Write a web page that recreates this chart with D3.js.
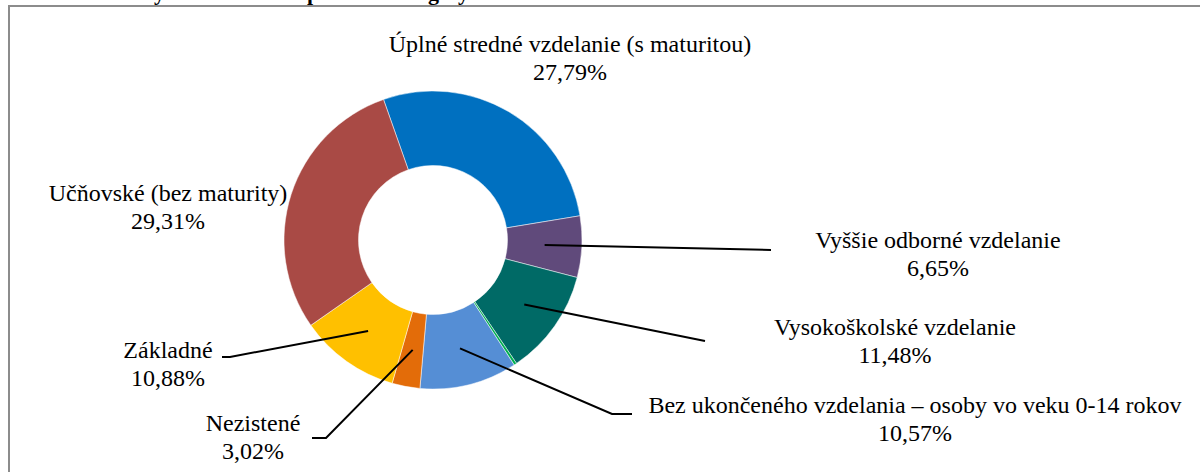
<!DOCTYPE html>
<html>
<head>
<meta charset="utf-8">
<script src="https://cdn.jsdelivr.net/npm/d3@7"></script>
<style>
  body { margin: 0; background: #fff; }
  svg { display: block; }
  text { font-family: 'Liberation Serif', 'Times New Roman', serif; }
</style>
</head>
<body>
<script>
// Data (clockwise from the top-left slice)
var categories = ["Úplné stredné vzdelanie (s maturitou)", "Vyššie odborné vzdelanie",
	"Vysokoškolské vzdelanie", "Bez školského vzdelania",
	"Bez ukončeného vzdelania – osoby vo veku 0-14 rokov", "Nezistené",
	"Základné", "Učňovské (bez maturity)"];
var values = [27.79, 6.65, 11.48, 0.30, 10.57, 3.02, 10.88, 29.31];
var showLabel = [true, true, true, false, true, true, true, true];
var colors = ["#0070c0", "#604a7b", "#006a66", "#00b050", "#558ed5", "#e36c09", "#ffc000", "#a94a45"];

// Layout
var w = 1200,
	h = 472,
	cx = 433,                       //centre of doughnut
	cy = 240,
	outerR = 149,
	innerR = 74.5,
	firstAngle = -19.4;             //angle of first slice, degrees

// label anchor (centre x, first baseline) and leader line end points
var labelPos = [
	{x: 570, y: 52, line: null},
	{x: 938, y: 248, line: [[771, 250]]},
	{x: 895, y: 335, line: [[705, 341]]},
	null,
	{x: 915, y: 413, line: [[612, 414], [632, 414]]},
	{x: 253, y: 431, line: [[326, 438], [312, 438]]},
	{x: 168, y: 358, line: [[230, 357], [222, 357]]},
	{x: 168, y: 201, line: null}
];

var svg = d3.select("body")
	.append("svg")
	.attr("width", w)
	.attr("height", h);

// Clipped title of the page above the chart
var titleBits = [["y", 154], ["p", 307], ["g", 428], ["y", 458]];
svg.selectAll("text.title")
	.data(titleBits)
	.enter()
	.append("text")
	.attr("class", "title")
	.text(function(d) { return d[0]; })
	.attr("x", function(d) { return d[1]; })
	.attr("y", 0)
	.attr("font-weight", "bold")
	.attr("font-size", "22px")
	.attr("fill", "#000");

// Chart frame
svg.append("path")
	.attr("d", "M9 " + (h + 5) + " L9 6 L" + (w + 5) + " 6")
	.attr("fill", "none")
	.attr("stroke", "#8c8c8c")
	.attr("stroke-width", 2);

var pie = d3.pie()
	.sort(null)
	.value(function(d) { return d; })
	.startAngle(firstAngle * Math.PI / 180)
	.endAngle((firstAngle + 360) * Math.PI / 180);

var arc = d3.arc()
	.innerRadius(innerR)
	.outerRadius(outerR);

var arcs = pie(values);

var g = svg.append("g")
	.attr("transform", "translate(" + cx + "," + cy + ")");

g.selectAll("path.slice")
	.data(arcs)
	.enter()
	.append("path")
	.attr("class", "slice")
	.attr("d", arc)
	.attr("fill", function(d, i) { return colors[i]; })
	.attr("stroke", "#ffffff")
	.attr("stroke-width", 0.5);

// Leader lines
arcs.forEach(function(d, i) {
	var p = labelPos[i];
	if (!p || !p.line) return;
	var c = arc.centroid(d);
	var pts = [[cx + c[0], cy + c[1]]].concat(p.line);
	svg.append("path")
		.attr("d", d3.line()(pts))
		.attr("fill", "none")
		.attr("stroke", "#000")
		.attr("stroke-width", 2);
});

// Labels
var fmt = function(v) { return v.toFixed(2).replace(".", ",") + "%"; };
categories.forEach(function(name, i) {
	if (!showLabel[i]) return;
	var p = labelPos[i];
	var t = svg.append("text")
		.attr("x", p.x)
		.attr("y", p.y)
		.attr("text-anchor", "middle")
		.attr("font-size", "24px")
		.attr("fill", "#000");
	t.append("tspan").attr("x", p.x).text(name);
	t.append("tspan").attr("x", p.x).attr("dy", 28).text(fmt(values[i]));
});
</script>
</body>
</html>
